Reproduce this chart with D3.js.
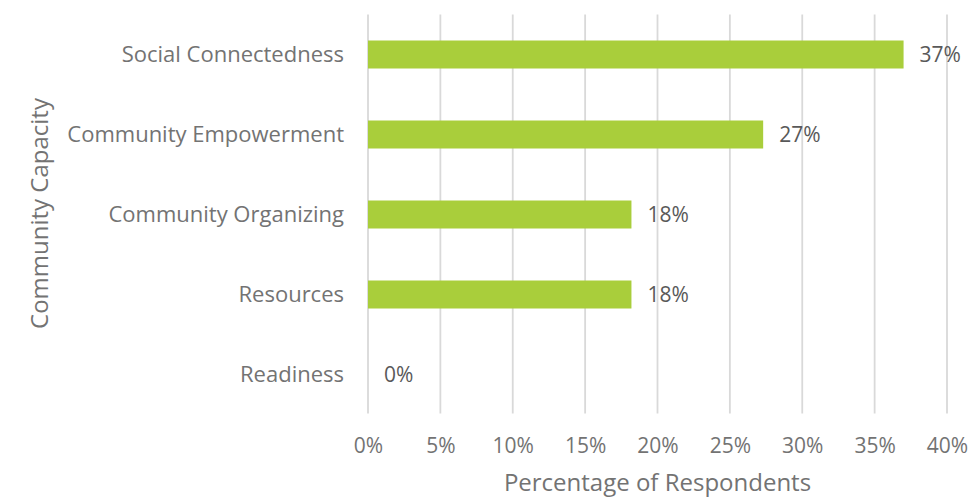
<!DOCTYPE html>
<html>
<head>
<meta charset="utf-8">
<script src="https://cdn.jsdelivr.net/npm/d3@7"></script>
<style>
  html, body { margin: 0; padding: 0; background: #fff; }
  svg { display: block; font-family: "Open Sans", sans-serif; }
</style>
</head>
<body>
<svg id="chart" width="975" height="500"></svg>
<script>
// Community capacity areas and share of respondents naming each
const categories = ["Social Connectedness", "Community Empowerment", "Community Organizing", "Resources", "Readiness"];
const shares = [0.37, 0.273, 0.182, 0.182, 0];
const xTicks = [0, 0.05, 0.10, 0.15, 0.20, 0.25, 0.30, 0.35, 0.40];
const xTitle = "Percentage of Respondents";
const yTitle = "Community Capacity";

const svg = d3.select("#chart");
const margin = { top: 14.5, right: 28, bottom: 85.5, left: 368 };
const width = 975, height = 500;
const innerW = width - margin.left - margin.right;
const innerH = height - margin.top - margin.bottom;

const x = d3.scaleLinear().domain([0, 0.40]).range([margin.left, margin.left + innerW]);
const y = d3.scaleBand().domain(categories).range([margin.top, margin.top + innerH]).paddingInner(0.65).paddingOuter(0.325);

const pct = d3.format(".0%");
const labelColor = "#737373";
const valueColor = "#595959";

// vertical gridlines
svg.append("g")
  .selectAll("line")
  .data(xTicks)
  .join("line")
  .attr("x1", d => x(d)).attr("x2", d => x(d))
  .attr("y1", margin.top).attr("y2", margin.top + innerH - 1)
  .attr("stroke", "#d9d9d9")
  .attr("stroke-width", 1.8);

// x tick labels
const xAxis = d3.axisBottom(x).tickValues(xTicks).tickFormat(pct).tickSize(0).tickPadding(0);
const gx = svg.append("g")
  .attr("transform", `translate(0, ${margin.top + innerH + 24})`)
  .call(xAxis);
gx.select(".domain").remove();
gx.selectAll("text")
  .attr("fill", labelColor)
  .attr("font-size", 21)
  .attr("font-family", "Open Sans, sans-serif");

// category labels
const yAxis = d3.axisLeft(y).tickSize(0).tickPadding(24);
const gy = svg.append("g")
  .attr("transform", `translate(${margin.left}, 0)`)
  .call(yAxis);
gy.select(".domain").remove();
gy.selectAll("text")
  .attr("fill", labelColor)
  .attr("font-size", 22)
  .attr("font-family", "Open Sans, sans-serif");

// bars
svg.append("g")
  .selectAll("rect")
  .data(categories)
  .join("rect")
  .attr("x", x(0))
  .attr("y", d => y(d))
  .attr("width", (d, i) => x(shares[i]) - x(0))
  .attr("height", y.bandwidth())
  .attr("fill", "#a9ce3b");

// value labels
svg.append("g")
  .selectAll("text")
  .data(categories)
  .join("text")
  .attr("x", (d, i) => x(shares[i]) + 16)
  .attr("y", d => y(d) + y.bandwidth() / 2)
  .attr("dy", "0.35em")
  .attr("fill", valueColor)
  .attr("font-size", 21)
  .text((d, i) => pct(shares[i]));

// axis titles
svg.append("text")
  .attr("x", x(0.20))
  .attr("y", 491)
  .attr("text-anchor", "middle")
  .attr("fill", labelColor)
  .attr("font-size", 24)
  .text(xTitle);

svg.append("text")
  .attr("transform", `translate(48, ${margin.top + innerH / 2 - 1}) rotate(-90)`)
  .attr("text-anchor", "middle")
  .attr("fill", labelColor)
  .attr("font-size", 24)
  .text(yTitle);
</script>
</body>
</html>
